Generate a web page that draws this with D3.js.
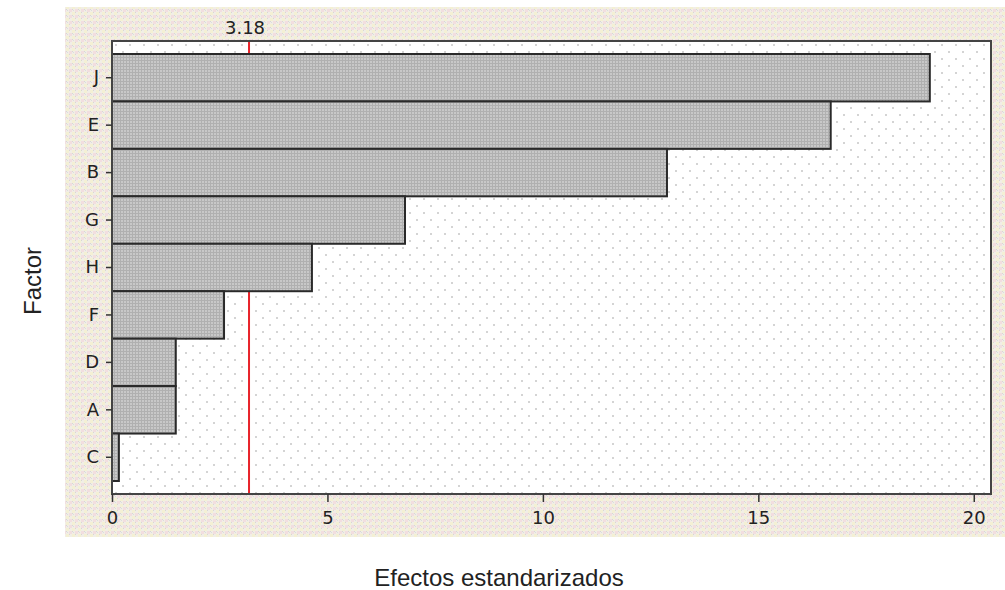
<!DOCTYPE html>
<html>
<head>
<meta charset="utf-8">
<script src="https://cdn.jsdelivr.net/npm/d3@7"></script>
<style>
  body { margin: 0; background: #fff; }
  svg { display: block; }
  .tick-label { font-family: "DejaVu Sans", sans-serif; font-size: 18px; fill: #222; }
  .axis-title { font-family: "Liberation Sans", Arial, sans-serif; font-size: 24px; fill: #222; }
</style>
</head>
<body>
<svg width="1005" height="590"></svg>
<script>
const factors = ['J', 'E', 'B', 'G', 'H', 'F', 'D', 'A', 'C'];
const effects = [18.98, 16.68, 12.88, 6.8, 4.64, 2.6, 1.48, 1.48, 0.16];
const xTicks = [0, 5, 10, 15, 20];
const refValue = 3.18;

const svg = d3.select('svg');
const width = +svg.attr('width');
const height = +svg.attr('height');

const plot = { left: 112, right: 991, top: 41, bottom: 494 };

const defs = svg.append('defs');

// beige checked panel
const outerPat = defs.append('pattern')
    .attr('id', 'outer')
    .attr('width', 6).attr('height', 6)
    .attr('patternUnits', 'userSpaceOnUse');
outerPat.append('rect').attr('width', 6).attr('height', 6).attr('fill', '#f1eee6');
outerPat.append('rect').attr('x', 0).attr('y', 0).attr('width', 3).attr('height', 3).attr('fill', '#f4f0d4');
outerPat.append('rect').attr('x', 3).attr('y', 3).attr('width', 3).attr('height', 3).attr('fill', '#f2dedf');
outerPat.append('rect').attr('x', 3).attr('y', 0).attr('width', 1).attr('height', 1).attr('fill', '#d6d6d6');
outerPat.append('rect').attr('x', 0).attr('y', 3).attr('width', 1).attr('height', 1).attr('fill', '#d6d6d6');
outerPat.append('rect').attr('x', 1).attr('y', 4).attr('width', 1).attr('height', 1).attr('fill', '#dcdcdc');

// dotted white plot area
const innerPat = defs.append('pattern')
    .attr('id', 'inner')
    .attr('width', 14).attr('height', 14)
    .attr('patternUnits', 'userSpaceOnUse')
    .attr('x', plot.left + 3).attr('y', plot.top + 3);
innerPat.append('rect').attr('width', 14).attr('height', 14).attr('fill', '#fff');
innerPat.append('rect').attr('x', 0).attr('y', 0).attr('width', 2).attr('height', 2).attr('fill', '#d4d4d4');
innerPat.append('rect').attr('x', 7).attr('y', 7).attr('width', 2).attr('height', 2).attr('fill', '#d4d4d4');

// grey dotted bar fill
const barPat = defs.append('pattern')
    .attr('id', 'barfill')
    .attr('width', 3).attr('height', 3)
    .attr('patternUnits', 'userSpaceOnUse');
barPat.append('rect').attr('width', 3).attr('height', 3).attr('fill', '#c8c8c8');
barPat.append('rect').attr('width', 1).attr('height', 3).attr('fill', '#b0b0b0');
barPat.append('rect').attr('width', 3).attr('height', 1).attr('fill', '#b0b0b0');

svg.append('rect')
    .attr('x', 65).attr('y', 7)
    .attr('width', width - 65).attr('height', 530)
    .attr('fill', 'url(#outer)');

svg.append('rect')
    .attr('x', plot.left).attr('y', plot.top)
    .attr('width', plot.right - plot.left).attr('height', plot.bottom - plot.top)
    .attr('fill', 'url(#inner)');

const xScale = d3.scaleLinear()
    .domain([0, 20.4])
    .range([plot.left, plot.right]);

const yScale = d3.scaleBand()
    .domain(factors)
    .range([54, 481])
    .padding(0);

// reference line (sits behind the bars)
svg.append('line')
    .attr('x1', xScale(refValue)).attr('x2', xScale(refValue))
    .attr('y1', plot.top).attr('y2', plot.bottom)
    .attr('stroke', '#e8232a')
    .attr('stroke-width', 2);

svg.append('text')
    .attr('class', 'tick-label')
    .attr('x', xScale(refValue) - 4)
    .attr('y', 34)
    .attr('text-anchor', 'middle')
    .text(refValue.toFixed(2));

// bars
svg.append('g').selectAll('rect')
    .data(factors.map((f, i) => ({ factor: f, value: effects[i] })))
    .enter().append('rect')
    .attr('x', xScale(0))
    .attr('y', d => yScale(d.factor))
    .attr('width', d => xScale(d.value) - xScale(0))
    .attr('height', yScale.bandwidth())
    .attr('fill', 'url(#barfill)')
    .attr('stroke', '#2a2a2a')
    .attr('stroke-width', 2);

// frame
svg.append('rect')
    .attr('x', plot.left).attr('y', plot.top)
    .attr('width', plot.right - plot.left).attr('height', plot.bottom - plot.top)
    .attr('fill', 'none')
    .attr('stroke', '#444')
    .attr('stroke-width', 2);

// x axis
const xAxisG = svg.append('g')
    .attr('transform', `translate(0, ${plot.bottom})`)
    .call(d3.axisBottom(xScale).tickValues(xTicks).tickSize(8).tickPadding(9).tickFormat(d3.format('d')));
xAxisG.select('.domain').remove();
xAxisG.selectAll('.tick line').attr('stroke', '#333').attr('stroke-width', 1.5);
xAxisG.selectAll('.tick text').attr('class', 'tick-label').attr('font-size', null).attr('font-family', null).attr('fill', null);

// y axis
const yAxisG = svg.append('g')
    .attr('transform', `translate(${plot.left}, 0)`)
    .call(d3.axisLeft(yScale).tickSize(6).tickPadding(7));
yAxisG.select('.domain').remove();
yAxisG.selectAll('.tick line').attr('stroke', '#333').attr('stroke-width', 1.5);
yAxisG.selectAll('.tick text').attr('class', 'tick-label').attr('font-size', null).attr('font-family', null).attr('fill', null);

// axis titles
svg.append('text')
    .attr('class', 'axis-title')
    .attr('x', 499)
    .attr('y', 586)
    .attr('text-anchor', 'middle')
    .text('Efectos estandarizados');

svg.append('text')
    .attr('class', 'axis-title')
    .attr('transform', 'translate(41, 281) rotate(-90)')
    .attr('text-anchor', 'middle')
    .text('Factor');
</script>
</body>
</html>
